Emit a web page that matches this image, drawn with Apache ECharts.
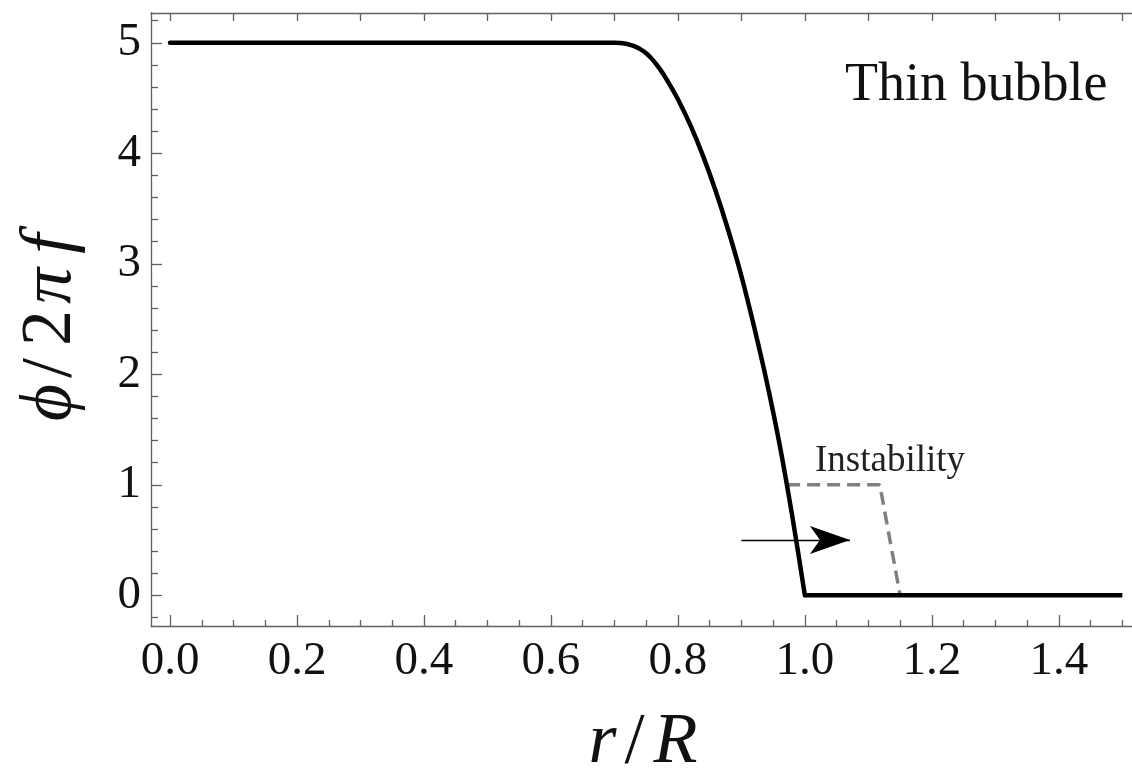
<!DOCTYPE html>
<html>
<head>
<meta charset="utf-8">
<script src="https://cdn.jsdelivr.net/npm/echarts@6/dist/echarts.min.js"></script>
<style>
  html, body { margin: 0; padding: 0; background: #fff; }
  #chart { width: 1132px; height: 779px; }
</style>
</head>
<body>
<div id="chart"></div>
<script>
// Field profile phi/(2 pi f) versus radius r/R for a thin bubble
const rValues   = [0.00, 0.70, 0.71, 0.72, 0.73, 0.74, 0.75, 0.76, 0.77, 0.78, 0.80, 0.82, 0.84, 0.86, 0.88, 0.90, 0.92, 0.94, 0.96, 0.98, 1.00];
const phiValues = [5.00, 5.00, 4.998, 4.99, 4.972, 4.945, 4.905, 4.848, 4.775, 4.69, 4.49, 4.25, 3.97, 3.65, 3.29, 2.89, 2.43, 1.93, 1.37, 0.72, 0.00];
// Outside the wall the field is zero
const outerR   = [1.00, 1.50];
const outerPhi = [0.00, 0.00];
// Perturbed (unstable) profile
const instR   = [0.972, 1.118, 1.150];
const instPhi = [1.00, 1.00, 0.00];
// Arrow showing the direction of the instability
const arrowFrom = [0.90, 0.5];
const arrowTo   = [1.071, 0.5];

// Tick positions
const xMajor = [0.0, 0.2, 0.4, 0.6, 0.8, 1.0, 1.2, 1.4];
const xMinor = [0.05, 0.1, 0.15, 0.25, 0.3, 0.35, 0.45, 0.5, 0.55, 0.65, 0.7, 0.75, 0.85, 0.9, 0.95, 1.05, 1.1, 1.15, 1.25, 1.3, 1.35, 1.45, 1.5];
const xTop   = [0.0, 0.1, 0.2, 0.3, 0.4, 0.5, 0.6, 0.7, 0.8, 0.9, 1.0, 1.1, 1.2, 1.3, 1.4, 1.5];
const yMajor = [0, 1, 2, 3, 4, 5];
const yMinor = [-0.2, 0.2, 0.4, 0.6, 0.8, 1.2, 1.4, 1.6, 1.8, 2.2, 2.4, 2.6, 2.8, 3.2, 3.4, 3.6, 3.8, 4.2, 4.4, 4.6, 4.8, 5.2];

const X_MIN = -0.03, X_MAX = 1.52;
const Y_MIN = -0.278, Y_MAX = 5.27;

const serif = 'Liberation Serif';
const frameColor = '#606060';

const zip = (a, b) => a.map((v, i) => [v, b[i]]);

function xAxisDef(pos, ticks, len, opts) {
  return Object.assign({
    type: 'value', position: pos, min: X_MIN, max: X_MAX,
    axisLine: { show: false, onZero: false },
    axisTick: { show: true, inside: true, length: len, customValues: ticks,
                lineStyle: { color: frameColor, width: 1.3 } },
    axisLabel: { show: false },
    splitLine: { show: false }
  }, opts || {});
}
function yAxisDef(pos, ticks, len, opts) {
  return Object.assign({
    type: 'value', position: pos, min: Y_MIN, max: Y_MAX,
    axisLine: { show: false, onZero: false },
    axisTick: { show: true, inside: true, length: len, customValues: ticks,
                lineStyle: { color: frameColor, width: 1.3 } },
    axisLabel: { show: false },
    splitLine: { show: false }
  }, opts || {});
}

const chart = echarts.init(document.getElementById('chart'), null, { renderer: 'canvas' });

chart.setOption({
  backgroundColor: '#ffffff',
  animation: false,
  textStyle: { fontFamily: serif },
  grid: { left: 151, top: 13, right: -3, bottom: 153, containLabel: false, outerBoundsMode: 'none' },
  title: [
    { text: 'Thin bubble', left: 845, top: 59, padding: 0,
      textStyle: { fontFamily: serif, fontSize: 54, fontWeight: 'normal', color: '#111' } },
    { text: 'Instability', left: 815, top: 443, padding: 0,
      textStyle: { fontFamily: serif, fontSize: 37, fontWeight: 'normal', color: '#222' } }
  ],
  xAxis: [
    xAxisDef('bottom', xMajor, 11, {
      axisLine: { show: true, onZero: false, lineStyle: { color: frameColor, width: 1.3 } },
      axisLabel: { show: true, customValues: xMajor, margin: 12,
                   formatter: v => v.toFixed(1),
                   fontFamily: serif, fontSize: 47, color: '#111' },
      name: '{i|r}{n|/}{i|R}', nameLocation: 'middle', nameGap: 81,
      nameTextStyle: { fontFamily: serif, rich: {
        i: { fontFamily: serif, fontStyle: 'italic', fontSize: 72, color: '#111' },
        n: { fontFamily: serif, fontSize: 72, color: '#111', padding: [0, 9, 0, 8] }
      } }
    }),
    xAxisDef('bottom', xMinor, 6),
    xAxisDef('top', xTop, 8, {
      axisLine: { show: true, onZero: false, lineStyle: { color: frameColor, width: 1.3 } }
    })
  ],
  yAxis: [
    yAxisDef('left', yMajor, 11, {
      axisLine: { show: true, onZero: false, lineStyle: { color: frameColor, width: 1.3 } },
      axisLabel: { show: true, customValues: yMajor, margin: 10,
                   fontFamily: serif, fontSize: 47, color: '#111' },
      name: '{i|ϕ}{n|/}{n|2}{p|π}{f|f}', nameLocation: 'middle', nameGap: 64, nameRotate: 90,
      nameTextStyle: { fontFamily: serif, rich: {
        i: { fontFamily: serif, fontStyle: 'italic', fontSize: 72, color: '#111' },
        p: { fontFamily: serif, fontStyle: 'italic', fontSize: 72, color: '#111', padding: [0, 14, 0, 0] },
        f: { fontFamily: serif, fontStyle: 'italic', fontSize: 72, color: '#111', padding: [0, 16, 0, 0] },
        n: { fontFamily: serif, fontSize: 72, color: '#111', padding: [0, 6, 0, 6] }
      } }
    }),
    yAxisDef('left', yMinor, 7)
  ],
  series: [
    {
      name: 'instability', type: 'line', xAxisIndex: 0, yAxisIndex: 0,
      data: zip(instR, instPhi), showSymbol: false, z: 2,
      lineStyle: { color: '#808080', width: 3.5, type: [13, 7] },
      markLine: {
        silent: true, symbol: ['none', 'arrow'], symbolSize: [21, 40],
        label: { show: false },
        lineStyle: { color: '#000', width: 1.3, type: 'solid' },
        data: [[{ coord: arrowFrom }, { coord: arrowTo }]]
      }
    },
    {
      name: 'profile', type: 'line', xAxisIndex: 0, yAxisIndex: 0,
      data: zip(rValues, phiValues), showSymbol: false, smooth: 0.3, z: 3,
      lineStyle: { color: '#000', width: 4.5, cap: 'round', join: 'round' }
    },
    {
      name: 'outside', type: 'line', xAxisIndex: 0, yAxisIndex: 0,
      data: zip(outerR, outerPhi), showSymbol: false, z: 3,
      lineStyle: { color: '#000', width: 4.5, join: 'round' }
    }
  ]
});
</script>
</body>
</html>
